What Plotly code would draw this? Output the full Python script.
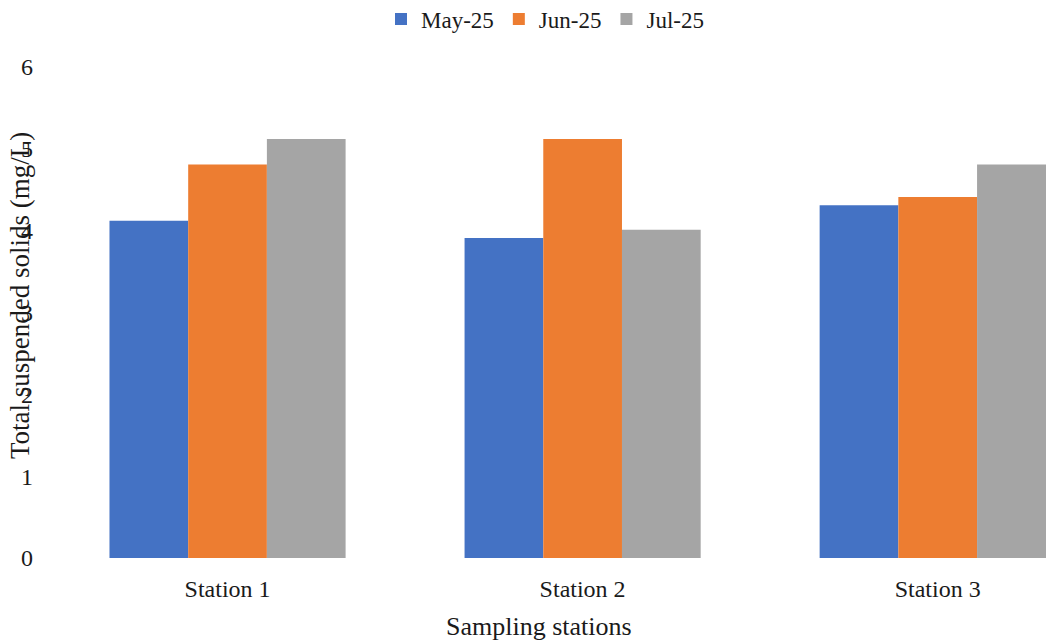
import plotly.graph_objects as go

stations = ["Station 1", "Station 2", "Station 3"]
months = ["May-25", "Jun-25", "Jul-25"]
may_25 = [4.12, 3.91, 4.31]
jun_25 = [4.81, 5.12, 4.41]
jul_25 = [5.12, 4.01, 4.81]
y_ticks = [0, 1, 2, 3, 4, 5, 6]

colors = ["#4472C4", "#ED7D31", "#A5A5A5"]
series = [may_25, jun_25, jul_25]

FONT = "Liberation Serif"
INK = "#1a1a1a"

fig = go.Figure()
for name, vals, col in zip(months, series, colors):
    fig.add_trace(go.Bar(x=stations, y=vals, name=name, marker_color=col,
                         marker_line_width=0))

fig.update_layout(
    width=1046, height=644,
    margin=dict(l=50, r=0, t=67, b=86),
    paper_bgcolor="white", plot_bgcolor="white",
    barmode="group", bargap=0.335, bargroupgap=0,
    font=dict(family=FONT, size=23, color=INK),
    showlegend=True,
    legend=dict(orientation="h", x=(545 - 50) / 996, xref="paper", xanchor="center",
                y=1 - 19 / 644, yref="container", yanchor="middle",
                font=dict(family=FONT, size=23, color=INK),
                itemwidth=30, tracegroupgap=0),
    xaxis=dict(range=[-0.5, 2.305], showline=False, showgrid=False,
               ticks="", ticklabelstandoff=14,
               tickfont=dict(family=FONT, size=24, color=INK)),
    yaxis=dict(range=[0, 6], tickvals=y_ticks, showgrid=False, zeroline=False,
               showline=False, ticks="", ticklabelstandoff=16,
               tickfont=dict(family=FONT, size=24, color=INK)),
)

fig.add_annotation(text="Sampling stations", xref="paper", yref="paper",
                   x=(539 - 50) / 996, y=-(626 - 558) / 491, showarrow=False,
                   xanchor="center", yanchor="middle",
                   font=dict(family=FONT, size=26, color=INK))
fig.add_annotation(text="Total suspended solids (mg/L)", xref="paper", yref="paper",
                   x=-(50 - 20) / 996, y=(558 - 296) / 491, showarrow=False,
                   textangle=-90, xanchor="center", yanchor="middle",
                   font=dict(family=FONT, size=27, color=INK))

fig.write_html("out.html")
